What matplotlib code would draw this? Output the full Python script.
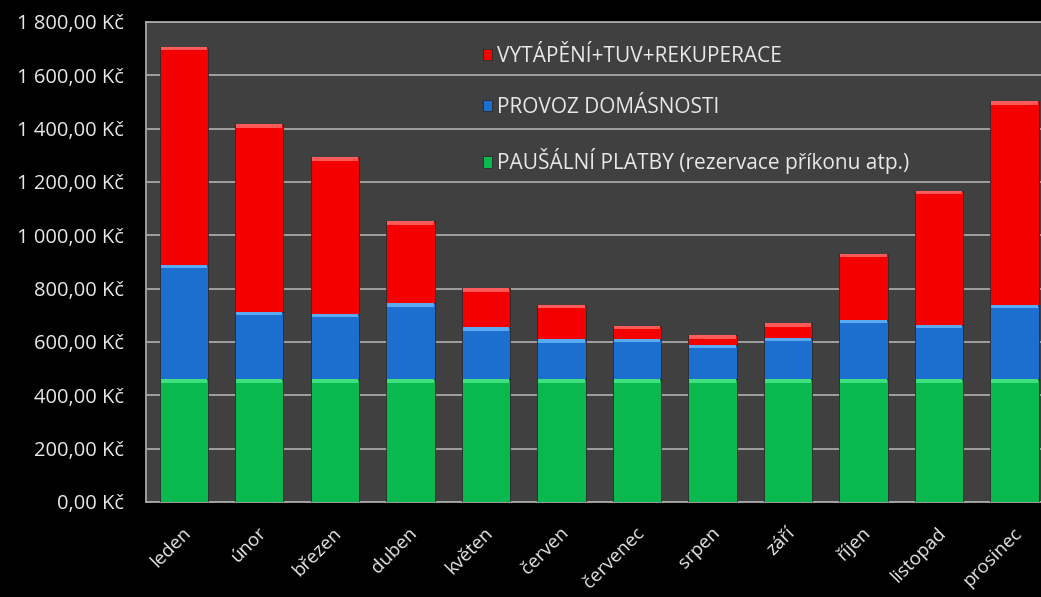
import numpy as np
import matplotlib.pyplot as plt
import matplotlib.transforms as mtransforms
from matplotlib.ticker import FuncFormatter

months = ["leden", "únor", "březen", "duben", "květen", "červen",
          "červenec", "srpen", "září", "říjen", "listopad", "prosinec"]
pausal = [460, 460, 460, 460, 460, 460, 460, 460, 460, 460, 460, 460]
provoz = [428, 252, 244, 285, 195, 150, 151, 128, 154, 222, 203, 278]
vytapeni = [820, 704, 588, 307, 146, 128, 48, 37, 56, 247, 505, 764]

labels = ["PAUŠÁLNÍ PLATBY (rezervace příkonu atp.)",
          "PROVOZ DOMÁSNOSTI",
          "VYTÁPĚNÍ+TUV+REKUPERACE"]
colors = ["#0ab850", "#1c6fcf", "#f50000"]
light = ["#3ee07e", "#5aaaf2", "#ff5a5a"]

plt.rcParams['font.family'] = ['Open Sans', 'DejaVu Sans']

fig = plt.figure(figsize=(10.41, 5.97), dpi=100, facecolor="black")
ax = fig.add_axes([146 / 1041, 1 - 502 / 597, 895 / 1041, 480 / 597])
ax.set_facecolor("#404040")

x = np.arange(len(months))
w = 0.64
bottom = np.zeros(len(months))
handles = []
for vals, c, lc, lab in zip([pausal, provoz, vytapeni], colors, light, labels):
    vals = np.array(vals, dtype=float)
    h = ax.bar(x, vals, w, bottom=bottom, color=c, label=lab, zorder=3,
               edgecolor="#2a2a2a", linewidth=0.6)
    # light bevel strip at top of each segment
    strip = np.minimum(vals, 12)
    ax.bar(x, strip, w * 0.96, bottom=bottom + vals - strip, color=lc,
           zorder=4, linewidth=0)
    handles.append(h)
    bottom += vals

ax.set_xlim(-0.5, 11.35)
ax.set_ylim(0, 1800)
ax.set_yticks(np.arange(0, 1801, 200))
ax.yaxis.set_major_formatter(FuncFormatter(
    lambda v, p: f"{v:,.2f}".replace(",", " ").replace(".", ",") + " Kč"))
ax.grid(axis="y", color="#a8a8a8", linewidth=1.3, zorder=0)
ax.set_axisbelow(True)
for s in ax.spines.values():
    s.set_color("#a8a8a8")
    s.set_linewidth(1.3)
ax.spines["right"].set_visible(False)

ax.set_xticks(x)
ax.set_xticklabels(months, rotation=45, ha="right", rotation_mode="anchor",
                   color="#e8e8e8", fontsize=13.5)
ax.tick_params(axis="x", length=0, pad=10)
ax.tick_params(axis="y", labelcolor="#e8e8e8", labelsize=14.5,
               length=0, pad=16)
off = mtransforms.ScaledTranslation(-0.02, -0.08, fig.dpi_scale_trans)
for t in ax.get_xticklabels():
    t.set_transform(t.get_transform() + off)

leg = ax.legend(handles[::-1], labels[::-1], loc="upper left",
                bbox_to_anchor=(0.3765, 0.95), frameon=False, fontsize=15,
                labelcolor="#e8e8e8", handlelength=0.45, handleheight=0.45,
                handletextpad=0.2, labelspacing=1.45, borderpad=0,
                borderaxespad=0)

plt.savefig("out.png", dpi=100, facecolor="black")
